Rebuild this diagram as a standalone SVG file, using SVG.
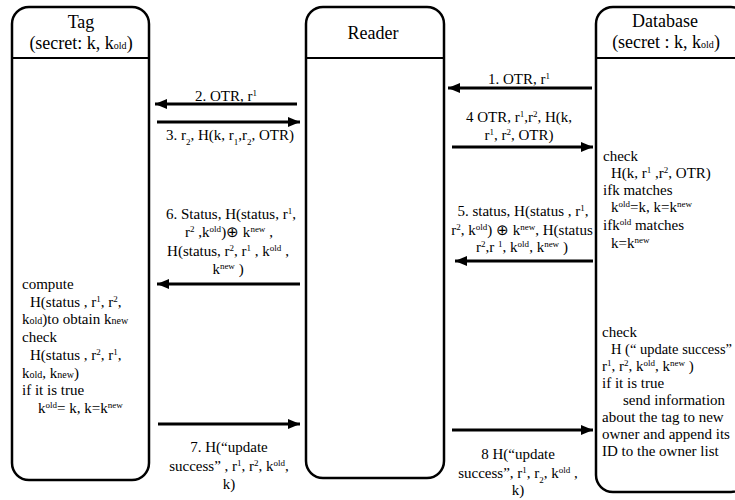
<svg xmlns="http://www.w3.org/2000/svg" width="735" height="500" viewBox="0 0 735 500">
<style>
text{font-family:"Liberation Serif","Times New Roman",serif;font-size:15px;fill:#000}
.h{font-size:18px}
.c{text-anchor:middle}
.sp{font-size:9px;baseline-shift:super}
.sb{font-size:9px;baseline-shift:sub}
.sm{font-size:10px}
.box{fill:#fff;stroke:#000;stroke-width:2.5}
.div{stroke:#000;stroke-width:2}
.ar{stroke:#000;stroke-width:2.8;fill:none;marker-end:url(#ah)}
</style>
<defs>
<marker id="ah" markerUnits="userSpaceOnUse" markerWidth="14" markerHeight="12" refX="12" refY="5" orient="auto">
<path d="M0,0 L12,5 L0,10 Z" fill="#000"/>
</marker>
</defs>
<rect width="735" height="500" fill="#fff"/>
<g id="tag">
<rect class="box" x="12" y="7" width="137" height="473" rx="17"/>
<line class="div" x1="12" y1="58" x2="149" y2="58"/>
<text class="h c" x="81" y="28">Tag</text>
<text class="h c" x="81" y="49">(secret:  k, k<tspan class="sm">old</tspan>)</text>
<text x="22" y="289">compute</text>
<text x="30" y="307">H(status , r<tspan class="sp">1</tspan>, r<tspan class="sp">2</tspan>,</text>
<text x="22" y="324">k<tspan class="sm">old</tspan>)to obtain k<tspan class="sm">new</tspan></text>
<text x="22" y="342">check</text>
<text x="30" y="360">H(status , r<tspan class="sp">2</tspan>, r<tspan class="sp">1</tspan>,</text>
<text x="22" y="378">k<tspan class="sm">old</tspan>, k<tspan class="sm">new</tspan>)</text>
<text x="22" y="395">if it is true</text>
<text x="38" y="413">k<tspan class="sp">old</tspan>= k, k=k<tspan class="sp">new</tspan></text>
</g>
<g id="reader">
<rect class="box" x="306" y="7" width="138" height="471" rx="17"/>
<line class="div" x1="306" y1="58" x2="444" y2="58"/>
<text class="h c" x="373" y="39">Reader</text>
</g>
<g id="database">
<rect class="box" x="596" y="7" width="152" height="485" rx="17"/>
<line class="div" x1="596" y1="58" x2="748" y2="58"/>
<text class="h c" x="665" y="27">Database</text>
<text class="h c" x="666" y="48">(secret : k, k<tspan class="sm">old</tspan>)</text>
<text x="603" y="161">check</text>
<text x="611" y="178">H(k, r<tspan class="sp">1</tspan> ,r<tspan class="sp">2</tspan>, OTR)</text>
<text x="603" y="195">ifk matches</text>
<text x="611" y="212">k<tspan class="sp">old</tspan>=k, k=k<tspan class="sp">new</tspan></text>
<text x="603" y="230">ifk<tspan class="sp">old</tspan>  matches</text>
<text x="611" y="248">k=k<tspan class="sp">new</tspan></text>
<text x="602" y="337">check</text>
<text x="611" y="354" textLength="121" lengthAdjust="spacingAndGlyphs">H (“ update success”</text>
<text x="602" y="371">r<tspan class="sp">1</tspan>, r<tspan class="sp">2</tspan>, k<tspan class="sp">old</tspan>, k<tspan class="sp">new</tspan> )</text>
<text x="602" y="388">if it is true</text>
<text x="623" y="405">send information</text>
<text x="602" y="422">about the tag to new</text>
<text x="602" y="439">owner and append its</text>
<text x="602" y="456">ID to the owner list</text>
</g>
<g id="connectors">
<line class="ar" x1="592" y1="88" x2="448" y2="88"/>
<line class="ar" x1="297" y1="104" x2="155" y2="104"/>
<line class="ar" x1="157" y1="122" x2="300" y2="122"/>
<line class="ar" x1="452" y1="147" x2="593" y2="147"/>
<line class="ar" x1="593" y1="261" x2="455" y2="261"/>
<line class="ar" x1="300" y1="284" x2="157" y2="284"/>
<line class="ar" x1="158" y1="424" x2="300" y2="424"/>
<line class="ar" x1="452" y1="430" x2="593" y2="430"/>
</g>
<g id="labels">
<text class="c" x="519" y="84">1. OTR, r<tspan class="sp">1</tspan></text>
<text class="c" x="226" y="101">2. OTR, r<tspan class="sp">1</tspan></text>
<text class="c" x="230" y="140">3. r<tspan class="sb">2</tspan>, H(k, r<tspan class="sb">1</tspan>,r<tspan class="sb">2</tspan>, OTR)</text>
<text class="c" x="519" y="122">4  OTR, r<tspan class="sp">1</tspan>,r<tspan class="sp">2</tspan>, H(k,</text>
<text class="c" x="519" y="140">r<tspan class="sp">1</tspan>, r<tspan class="sp">2</tspan>, OTR)</text>
<text class="c" x="523" y="216">5. status, H(status , r<tspan class="sp">1</tspan>,</text>
<text class="c" x="522" y="235">r<tspan class="sp">2</tspan>, k<tspan class="sp">old</tspan>) ⊕ k<tspan class="sp">new</tspan>, H(status</text>
<text class="c" x="522" y="252">r<tspan class="sp">2</tspan>,r <tspan class="sp">1</tspan>, k<tspan class="sp">old</tspan>, k<tspan class="sp">new</tspan> )</text>
<text class="c" x="231" y="219">6. Status, H(status, r<tspan class="sp">1</tspan>,</text>
<text class="c" x="229" y="237">r<tspan class="sp">2</tspan> ,k<tspan class="sp">old</tspan>)⊕ k<tspan class="sp">new</tspan> ,</text>
<text class="c" x="228" y="256">H(status, r<tspan class="sp">2</tspan>, r<tspan class="sp">1</tspan> , k<tspan class="sp">old</tspan> ,</text>
<text class="c" x="228" y="274">k<tspan class="sp">new</tspan> )</text>
<text class="c" x="229" y="452">7. H(“update</text>
<text class="c" x="229" y="471">success” , r<tspan class="sp">1</tspan>, r<tspan class="sp">2</tspan>, k<tspan class="sp">old</tspan>,</text>
<text class="c" x="229" y="489">k)</text>
<text class="c" x="518" y="459">8 H(“update</text>
<text class="c" x="518" y="478">success”, r<tspan class="sp">1</tspan>, r<tspan class="sb">2</tspan>, k<tspan class="sp">old</tspan> ,</text>
<text class="c" x="518" y="495">k)</text>
</g>
</svg>
